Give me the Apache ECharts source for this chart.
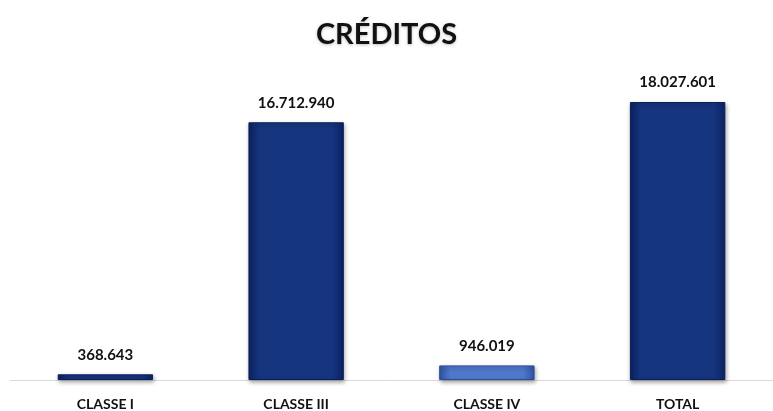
<!DOCTYPE html>
<html>
<head>
<meta charset="utf-8">
<script src="https://cdn.jsdelivr.net/npm/echarts@6/dist/echarts.min.js"></script>
<style>
  html, body { margin: 0; padding: 0; background: #fff; }
  #chart { width: 773px; height: 411px; }
</style>
</head>
<body>
<div id="chart"></div>
<script>
// categorias e valores
const categories = ["CLASSE I", "CLASSE III", "CLASSE IV", "TOTAL"];
const values = [368643, 16712940, 946019, 18027601];
const lightBars = [false, false, true, false];

const chart = echarts.init(document.getElementById("chart"));

function fmt(v) {
  return String(v).replace(/\B(?=(\d{3})+(?!\d))/g, ".");
}

function barStyle(light) {
  const edge = light ? "#2f55a8" : "#0b2262";
  const mid = light ? "#4f78c8" : "#16357f";
  return {
    color: {
      type: "linear", x: 0, y: 0, x2: 1, y2: 0,
      colorStops: [
        { offset: 0, color: edge },
        { offset: 0.12, color: mid },
        { offset: 0.88, color: mid },
        { offset: 1, color: edge }
      ]
    },
    borderColor: light ? "#2a4c98" : "#0a1f5a",
    borderWidth: 1,
    shadowColor: "rgba(0,0,0,0.35)",
    shadowBlur: 4,
    shadowOffsetX: 1,
    shadowOffsetY: 2
  };
}

const option = {
  backgroundColor: "#fff",
  title: {
    text: "CRÉDITOS",
    left: "center",
    top: 15,
    textStyle: {
      fontFamily: "Lato",
      fontWeight: "bold",
      fontSize: 29,
      color: "#111",
      textShadowColor: "rgba(0,0,0,0.25)",
      textShadowBlur: 3,
      textShadowOffsetY: 1
    }
  },
  grid: { left: 10, right: 0, top: 102, bottom: 30 },
  xAxis: {
    type: "category",
    data: categories,
    axisTick: { show: false },
    axisLine: { lineStyle: { color: "#d9d9d9", width: 1 } },
    axisLabel: {
      fontFamily: "Lato",
      fontWeight: "bold",
      fontSize: 14,
      color: "#111",
      margin: 17
    }
  },
  yAxis: {
    type: "value",
    min: 0,
    max: 18027601,
    show: false,
    splitLine: { show: false }
  },
  series: [
    {
      type: "bar",
      barWidth: "50%",
      data: values.map((v, i) => ({ value: v, itemStyle: barStyle(lightBars[i]) })),
      label: {
        show: true,
        position: "top",
        distance: 12,
        formatter: p => fmt(p.value),
        fontFamily: "Lato",
        fontWeight: "bold",
        fontSize: 15,
        color: "#111"
      }
    }
  ]
};

chart.setOption(option);
</script>
</body>
</html>
